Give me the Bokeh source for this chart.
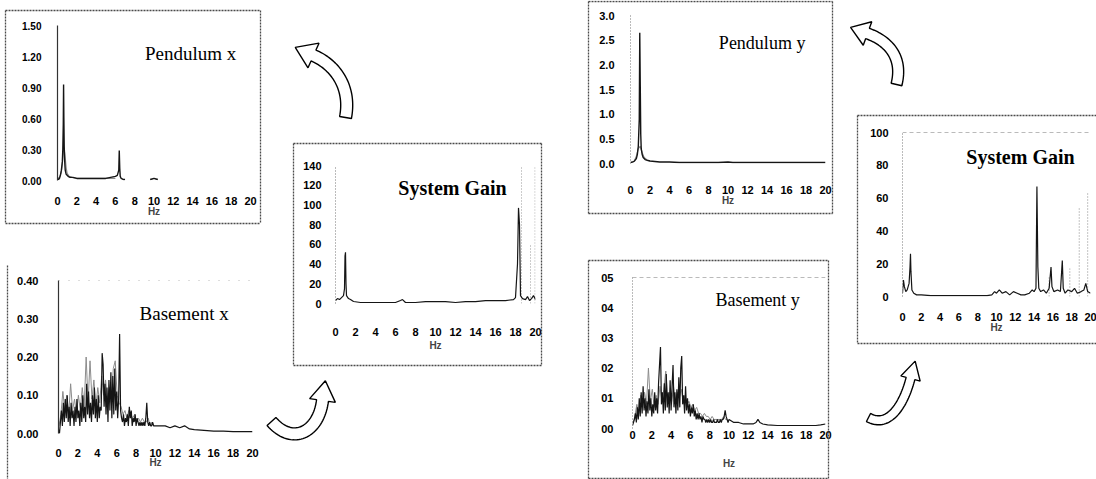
import numpy as np
from bokeh.plotting import figure
from bokeh.layouts import column
from bokeh.models import Range1d, FixedTicker, Span, Label
from bokeh.embed import file_html
from bokeh.resources import INLINE

# ---------------------------------------------------------------- data
HZ_TICKS = [0, 2, 4, 6, 8, 10, 12, 14, 16, 18, 20]

# Pendulum x
PX_F = [0.0, 0.1, 0.2, 0.3, 0.4, 0.5, 0.55, 0.6, 0.63, 0.66, 0.7, 0.75, 0.8, 0.9, 1.0, 1.1, 1.3,
        1.6, 2.0, 2.5, 3.0, 3.5, 4.0, 4.5, 5.0, 5.5, 6.0, 6.2, 6.35, 6.4, 6.45, 6.5, 6.6, 6.8, 7.0]
PX_A = [0.02, 0.01, 0.02, 0.05, 0.10, 0.18, 0.30, 0.55, 0.93, 0.60, 0.30, 0.18, 0.10, 0.06, 0.05,
        0.04, 0.03, 0.03, 0.02, 0.02, 0.02, 0.02, 0.02, 0.02, 0.02, 0.03, 0.04, 0.05, 0.10, 0.29,
        0.12, 0.04, 0.02, 0.01, 0.01]
PX_B_F = [9.6, 9.8, 10.0, 10.2, 10.4]
PX_B_A = [0.01, 0.015, 0.02, 0.015, 0.01]
PX_G_F = [0.0, 0.2, 0.4, 0.5, 0.6, 0.7, 0.8, 0.9, 1.0, 1.2, 1.5, 2.0, 3.0, 4.0, 5.0, 6.0]
PX_G_A = [0.02, 0.03, 0.08, 0.16, 0.28, 0.32, 0.22, 0.12, 0.07, 0.04, 0.03, 0.02, 0.02, 0.02, 0.02, 0.02]

# Basement x
BX_F = [round(0.1 * i, 1) for i in range(101)] + [10.5, 11, 11.5, 12, 12.5, 13, 13.5, 14, 15, 16, 17, 18, 19, 20]
BX_A = [0.01, 0.00, 0.03, 0.06, 0.02, 0.08, 0.03, 0.09, 0.04, 0.10,
        0.03, 0.07, 0.02, 0.08, 0.04, 0.06, 0.02, 0.07, 0.03, 0.09,
        0.04, 0.06, 0.02, 0.08, 0.03, 0.10, 0.04, 0.07, 0.03, 0.13,
        0.05, 0.11, 0.04, 0.08, 0.03, 0.10, 0.05, 0.12, 0.04, 0.09,
        0.03, 0.10, 0.04, 0.07, 0.06, 0.21, 0.18, 0.07, 0.13, 0.05,
        0.12, 0.03, 0.14, 0.06, 0.16, 0.04, 0.15, 0.05, 0.17, 0.06,
        0.11, 0.04, 0.09, 0.26, 0.06, 0.04, 0.03, 0.05, 0.02, 0.04,
        0.03, 0.05, 0.02, 0.07, 0.04, 0.06, 0.02, 0.04, 0.03, 0.05,
        0.02, 0.04, 0.03, 0.02, 0.03, 0.02, 0.03, 0.02, 0.03, 0.02,
        0.04, 0.08, 0.03, 0.02, 0.03, 0.02, 0.02, 0.03, 0.02, 0.02,
        0.02,
        0.02, 0.02, 0.015, 0.02, 0.015, 0.02, 0.012, 0.01, 0.008, 0.006, 0.006, 0.005, 0.005, 0.005]
BX_G_F = [round(0.05 + 0.2 * i, 2) for i in range(50)]
BX_G_A = [0.02, 0.05, 0.11, 0.06, 0.10, 0.05, 0.13, 0.06, 0.09, 0.05,
          0.10, 0.06, 0.12, 0.07, 0.20, 0.08, 0.19, 0.09, 0.14, 0.07,
          0.12, 0.08, 0.15, 0.10, 0.14, 0.09, 0.12, 0.08, 0.17, 0.19,
          0.10, 0.08, 0.07, 0.05, 0.06, 0.04, 0.06, 0.05, 0.04, 0.05,
          0.03, 0.04, 0.03, 0.04, 0.03, 0.03, 0.04, 0.02, 0.03, 0.02]

# System gain (x direction)
SGX_F = [0.0, 0.2, 0.4, 0.6, 0.8, 0.9, 0.95, 1.0, 1.05, 1.1, 1.3, 1.5, 1.8, 2.5, 4, 6, 6.5, 6.7, 7,
         8, 9, 10, 11, 12, 13, 14, 15, 16, 17, 17.8, 18.0, 18.2, 18.3, 18.4, 18.5, 18.7, 19.0, 19.2,
         19.4, 19.6, 19.8, 20]
SGX_A = [3, 5, 4, 6, 8, 15, 48, 52, 20, 8, 5, 4, 2, 1, 1, 1, 3, 4, 1,
         1, 2, 2, 2, 1, 2, 2, 3, 3, 3, 4, 6, 40, 97, 80, 8, 5, 4, 7,
         3, 5, 8, 4]
SGX_G_F = [18.6, 19.5, 19.95]
SGX_G_A = [140, 60, 140]

# Pendulum y
PY_F = [0.0, 0.2, 0.4, 0.6, 0.7, 0.8, 0.9, 0.95, 1.0, 1.05, 1.1, 1.2, 1.3, 1.5, 1.8, 2.0, 2.5, 3, 4, 5,
        6, 7, 8, 9, 10, 10.5, 11, 12, 13, 14, 15, 16, 17, 18, 19, 20]
PY_A = [0.02, 0.03, 0.05, 0.10, 0.18, 0.35, 0.9, 2.65, 1.6, 0.6, 0.3, 0.18, 0.12, 0.08, 0.06, 0.05,
        0.04, 0.03, 0.03, 0.02, 0.02, 0.02, 0.02, 0.02, 0.03, 0.02, 0.02, 0.02, 0.02, 0.02, 0.02,
        0.02, 0.02, 0.02, 0.02, 0.02]
PY_G_F = [0.4, 0.6, 0.8, 1.0, 1.2, 1.4, 1.7, 2.0]
PY_G_A = [0.05, 0.15, 0.30, 0.35, 0.22, 0.12, 0.07, 0.05]

# Basement y
BY_F = [round(0.1 * i, 1) for i in range(101)] + [10.5, 11, 11.5, 12, 12.5, 12.8, 13, 13.2, 13.5, 14, 15, 16, 17, 18, 19, 19.5, 20]
BY_A = [0.01, 0.02, 0.03, 0.05, 0.02, 0.07, 0.03, 0.10, 0.04, 0.12,
        0.05, 0.14, 0.06, 0.10, 0.04, 0.09, 0.05, 0.13, 0.06, 0.10,
        0.04, 0.08, 0.05, 0.12, 0.06, 0.10, 0.05, 0.15, 0.21, 0.27,
        0.08, 0.12, 0.05, 0.15, 0.06, 0.18, 0.07, 0.12, 0.05, 0.16,
        0.06, 0.14, 0.21, 0.07, 0.12, 0.05, 0.13, 0.06, 0.17, 0.07,
        0.20, 0.24, 0.08, 0.11, 0.05, 0.14, 0.06, 0.10, 0.05, 0.08,
        0.04, 0.07, 0.05, 0.08, 0.04, 0.06, 0.03, 0.05, 0.03, 0.05,
        0.03, 0.04, 0.02, 0.04, 0.03, 0.03, 0.02, 0.03, 0.02, 0.03,
        0.02, 0.03, 0.02, 0.02, 0.03, 0.02, 0.02, 0.02, 0.03, 0.02,
        0.02, 0.03, 0.02, 0.03, 0.03, 0.04, 0.06, 0.04, 0.03, 0.02,
        0.03,
        0.02, 0.02, 0.015, 0.015, 0.015, 0.02, 0.03, 0.02, 0.015, 0.012, 0.01, 0.01, 0.01, 0.01, 0.01, 0.012, 0.015]
BY_G_F = [round(0.05 + 0.2 * i, 2) for i in range(50)]
BY_G_A = [0.02, 0.04, 0.08, 0.05, 0.11, 0.07, 0.12, 0.08, 0.20, 0.09,
          0.13, 0.07, 0.11, 0.08, 0.14, 0.09, 0.13, 0.19, 0.10, 0.12,
          0.08, 0.14, 0.09, 0.12, 0.10, 0.13, 0.09, 0.11, 0.08, 0.09,
          0.07, 0.08, 0.06, 0.07, 0.05, 0.05, 0.04, 0.05, 0.04, 0.04,
          0.03, 0.04, 0.03, 0.03, 0.03, 0.03, 0.03, 0.04, 0.03, 0.03]

# System gain (y direction)
SGY_F = [0.0, 0.1, 0.2, 0.35, 0.5, 0.7, 0.8, 0.85, 0.9, 1.0, 1.2, 1.5, 2, 3, 4, 5, 6, 7, 8, 9, 9.5,
         9.8, 10, 10.3, 10.6, 11, 11.4, 11.8, 12.2, 12.6, 13, 13.5, 13.8, 14, 14.2, 14.3, 14.4, 14.5,
         14.7, 15, 15.3, 15.6, 15.8, 15.9, 16.1, 16.5, 16.8, 17.0, 17.1, 17.3, 17.6, 18, 18.3, 18.6,
         19, 19.3, 19.5, 19.7, 20]
SGY_A = [2, 10, 6, 3, 4, 8, 18, 26, 15, 4, 2, 1, 1, 0.5, 0.5, 0.5, 0.5, 0.5, 0.5, 0.5, 1,
         3, 2, 4, 2, 3, 1, 3, 2, 1, 1, 2, 4, 3, 5, 67, 18, 5,
         3, 4, 2, 5, 18, 6, 3, 4, 3, 22, 5, 2, 4, 3, 5, 2,
         3, 4, 8, 3, 2]
SGY_G_F = [15.6, 17.8, 18.8, 19.7]
SGY_G_A = [12, 17, 54, 63]

# ---------------------------------------------------------------- styling
BLACK = "#151515"
GREY = "#8c8c8c"
TICK_FONT = "Liberation Sans"
TITLE_FONT = "Liberation Serif"
FRAME_COLOR = "#4a4a4a"
# plots stacked in one column share their side borders, so every plot uses the same ones
SIDE_L, SIDE_R = 52, 13


def panel(frame_x, frame_w, top, bt, frame_h, bb, ymax, yticks, ylabels, ylab_size,
          x_standoff, hz_standoff, y_standoff, axis_solid, top_line):
    p = figure(frame_width=frame_w, frame_height=frame_h,
               x_range=Range1d(0, 20), y_range=Range1d(0, ymax),
               output_backend="svg", toolbar_location=None, title=None,
               min_border_left=SIDE_L, min_border_right=SIDE_R, min_border_top=bt, min_border_bottom=bb)
    p.xgrid.visible = False
    p.ygrid.visible = False
    p.outline_line_color = None
    p.background_fill_color = "white"
    p.border_fill_color = None

    xa = p.xaxis[0]
    xa.ticker = FixedTicker(ticks=HZ_TICKS)
    xa.axis_line_color = None
    xa.major_tick_line_color = None
    xa.minor_tick_line_color = None
    xa.major_label_standoff = x_standoff
    xa.major_label_text_font = TICK_FONT
    xa.major_label_text_font_size = "11px"
    xa.major_label_text_font_style = "bold"
    xa.major_label_text_color = "black"
    xa.axis_label = "Hz"
    xa.axis_label_standoff = hz_standoff
    xa.axis_label_text_font = TICK_FONT
    xa.axis_label_text_font_size = "10px"
    xa.axis_label_text_font_style = "bold"

    ya = p.yaxis[0]
    ya.ticker = FixedTicker(ticks=yticks)
    ya.major_label_overrides = dict(zip(yticks, ylabels))
    ya.major_tick_line_color = None
    ya.minor_tick_line_color = None
    ya.major_label_standoff = y_standoff
    ya.major_label_text_font = TICK_FONT
    ya.major_label_text_font_size = ylab_size
    ya.major_label_text_font_style = "bold"
    ya.major_label_text_color = "black"
    if axis_solid:
        ya.axis_line_color = "#333333"
        ya.axis_line_width = 1.2
    else:
        ya.axis_line_color = "#777777"
        ya.axis_line_dash = "1 2"
    if top_line is not None:
        p.add_layout(Span(location=top_line[0], dimension="width", line_color="#777777",
                          line_width=1, line_dash=top_line[1]))
    p.styles = {"position": "absolute", "left": f"{frame_x - SIDE_L}px", "top": f"{top}px"}
    return p


def title(p, x, y, text, size, bold=False):
    p.add_layout(Label(x=x, y=y, text=text, text_font=TITLE_FONT, text_font_size=size,
                       text_font_style="bold" if bold else "normal", text_align="center",
                       text_baseline="middle", text_color="black"))


# Pendulum x
p1 = panel(57, 193, 10, 15, 155, 43, 1.5,
           [0.0, 0.3, 0.6, 0.9, 1.2, 1.5], ["0.00", "0.30", "0.60", "0.90", "1.20", "1.50"], "10px",
           10, -2, 10, True, None)
p1.line(PX_G_F, PX_G_A, line_color=GREY, line_width=1.2)
p1.line(PX_F, PX_A, line_color=BLACK, line_width=1.4)
p1.line(PX_B_F, PX_B_A, line_color=BLACK, line_width=1.4)
title(p1, 13.8, 1.23, "Pendulum x", "19px")

# Basement x
p2 = panel(58, 194, 262, 18, 153, 46, 0.4,
           [0.0, 0.1, 0.2, 0.3, 0.4], ["0.00", "0.10", "0.20", "0.30", "0.40"], "11px",
           9, -3, 14, True, (0.4, "1 9"))
p2.line(BX_G_F, BX_G_A, line_color=GREY, line_width=1)
p2.line(BX_F, BX_A, line_color=BLACK, line_width=1.2)
title(p2, 13.2, 0.314, "Basement  x", "19px")

# System gain, x direction
p3 = panel(335, 200, 143, 22, 138, 62, 140,
           [0, 20, 40, 60, 80, 100, 120, 140], ["0", "20", "40", "60", "80", "100", "120", "140"], "11px",
           18, 1, 8, False, None)
p3.segment(x0=SGX_G_F, y0=[0] * len(SGX_G_F), x1=SGX_G_F, y1=SGX_G_A,
           line_color="#999999", line_width=1, line_dash="1 2")
p3.line(SGX_F, SGX_A, line_color=BLACK, line_width=1.2)
title(p3, 11.7, 116.7, "System Gain", "20px", bold=True)

# Pendulum y
p4 = panel(630, 195, 1, 14, 148, 50, 3.0,
           [0.0, 0.5, 1.0, 1.5, 2.0, 2.5, 3.0], ["0.0", "0.5", "1.0", "1.5", "2.0", "2.5", "3.0"], "11px",
           16, -2, 10, False, None)
p4.line(PY_G_F, PY_G_A, line_color=GREY, line_width=1.2)
p4.line(PY_F, PY_A, line_color=BLACK, line_width=1.4)
title(p4, 13.5, 2.45, "Pendulum y", "18px")

# Basement y
p5 = panel(632, 193, 260, 17, 151, 51, 0.5,
           [0.0, 0.1, 0.2, 0.3, 0.4, 0.5], ["00", "01", "02", "03", "04", "05"], "11px",
           -4, 16, 13, False, (0.5, "4 3"))
p5.line(BY_G_F, BY_G_A, line_color=GREY, line_width=1)
p5.line(BY_F, BY_A, line_color=BLACK, line_width=1.2)
title(p5, 13.2, 0.424, "Basement  y", "18px")

# System gain, y direction
p6 = panel(902, 188, 115, 17, 164, 47, 100,
           [0, 20, 40, 60, 80, 100], ["0", "20", "40", "60", "80", "100"], "11px",
           10, -2, 8, False, (100, "4 3"))
p6.segment(x0=SGY_G_F, y0=[0] * len(SGY_G_F), x1=SGY_G_F, y1=SGY_G_A,
           line_color="#888888", line_width=1, line_dash="1 2")
p6.line(SGY_F, SGY_A, line_color=BLACK, line_width=1.2)
title(p6, 12.55, 84.8, "System Gain", "20px", bold=True)

# ---------------------------------------------------------------- overlays: frames and curved arrows
W, H = 1096, 479


def overlay(x0, x1):
    """Transparent drawing layer in page pixels covering page columns x0..x1."""
    o = figure(frame_width=x1 - x0, frame_height=H, x_range=Range1d(x0, x1), y_range=Range1d(H, 0),
               x_axis_type=None, y_axis_type=None, output_backend="svg", toolbar_location=None,
               min_border_left=SIDE_L, min_border_right=SIDE_R, min_border_top=0, min_border_bottom=0,
               title=None)
    o.grid.visible = False
    o.outline_line_color = None
    o.background_fill_color = None
    o.border_fill_color = None
    # shift left by the side border so that the frame starts at page column x0
    o.styles = {"position": "absolute", "left": f"{x0 - SIDE_L}px", "top": "0px",
                "pointer-events": "none"}
    return o


def draw_edges(o, edges):
    o.segment(x0=[e[0] for e in edges], y0=[e[1] for e in edges],
              x1=[e[2] for e in edges], y1=[e[3] for e in edges],
              line_color=FRAME_COLOR, line_width=1.3, line_dash="2 1")


# frame edges around the panels (x0, y0, x1, y1)
FRAME_EDGES_LEFT = [
    (5, 10, 260, 10), (5, 223, 260, 223), (5, 10, 5, 223), (260, 10, 260, 223),
    (7, 265, 7, 479),
    (293, 143, 541, 143), (293, 365, 541, 365), (293, 143, 293, 365), (541, 143, 541, 365),
    (588, 1, 832, 1), (588, 213, 832, 213), (588, 1, 588, 213), (832, 1, 832, 213),
    (588, 260, 828, 260), (588, 478, 828, 478), (588, 260, 588, 478), (828, 260, 828, 478),
]
FRAME_EDGES_RIGHT = [
    (857, 115, 1096, 115), (857, 343, 1096, 343), (857, 115, 857, 343),
]

# curved arrows: bezier control points of the band's centre line, band width, head width, head length
ARROWS = [
    ([(345, 117), (351, 86), (334, 64), (313, 55)], 12, 27, 20),
    ([(896, 84), (903, 56), (887, 40), (867, 33)], 11, 25, 18),
    ([(271, 421), (292, 445), (318, 432), (322, 400)], 12, 26, 20),
    ([(868, 417), (888, 428), (903, 405), (910, 378)], 9, 20, 18),
]


def bezier(ctrl, n=40):
    c = np.array(ctrl, float)
    t = np.linspace(0, 1, n)[:, None]
    return ((1 - t) ** 3) * c[0] + 3 * ((1 - t) ** 2) * t * c[1] + 3 * (1 - t) * t ** 2 * c[2] + t ** 3 * c[3]


def arrow_outline(ctrl, width, head_w, head_len):
    c = bezier(ctrl)
    d = np.gradient(c, axis=0)
    d /= np.linalg.norm(d, axis=1)[:, None]
    nrm = np.stack([-d[:, 1], d[:, 0]], axis=1)
    left = c + nrm * width / 2
    right = c - nrm * width / 2
    end, de, ne = c[-1], d[-1], nrm[-1]
    tip = end + de * head_len
    hl = end + ne * head_w / 2
    hr = end - ne * head_w / 2
    poly = np.vstack([left, hl[None], tip[None], hr[None], right[::-1]])
    return list(poly[:, 0]), list(poly[:, 1])


ov_a = overlay(0, 1000)
draw_edges(ov_a, FRAME_EDGES_LEFT)
shapes = [arrow_outline(*a) for a in ARROWS]
ov_a.patches([s[0] for s in shapes], [s[1] for s in shapes], fill_color="white",
             line_color="black", line_width=1.4)

ov_b = overlay(854, W)
draw_edges(ov_b, FRAME_EDGES_RIGHT)

root = column(p1, p2, p3, p4, p5, p6, ov_a, ov_b, width=W, height=H,
              styles={"position": "relative", "width": f"{W}px", "height": f"{H}px",
                      "overflow": "hidden"})

open("out.html", "w").write(file_html(root, INLINE))
